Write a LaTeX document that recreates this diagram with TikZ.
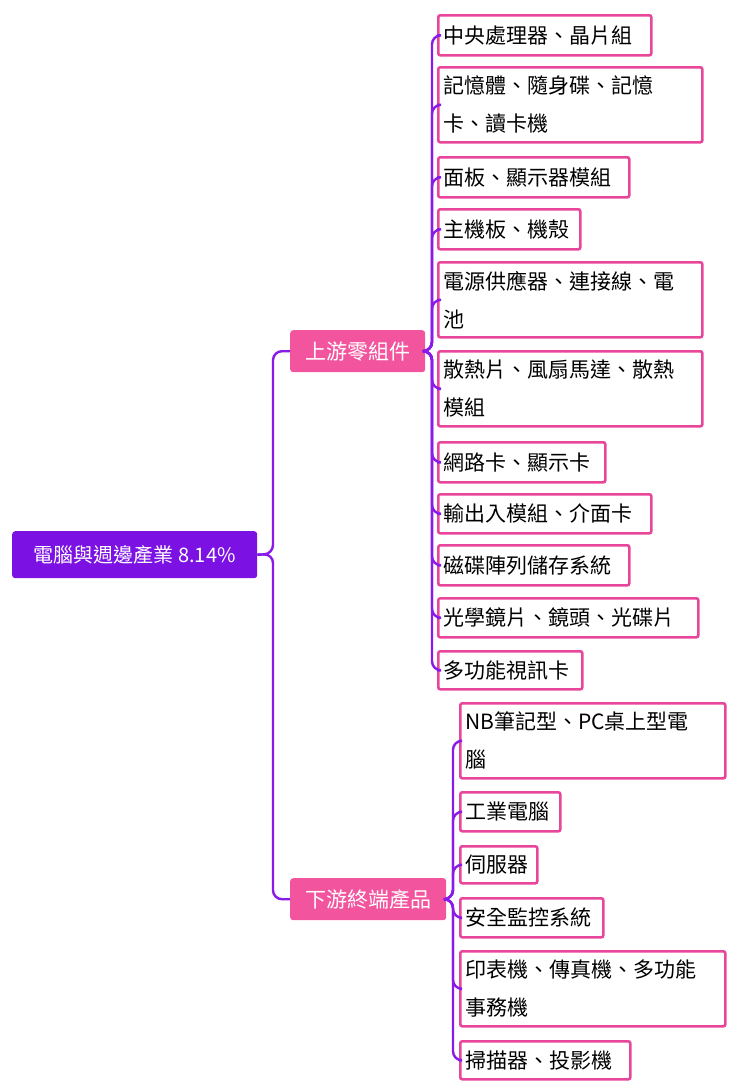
\documentclass[tikz,border=0pt]{standalone}
\usepackage{fontspec}
\newfontfamily\cjk{Noto Sans CJK TC}
\definecolor{rootc}{HTML}{7B12E3}
\definecolor{pinkf}{HTML}{F2559E}
\definecolor{pinkb}{HTML}{E8469A}
\definecolor{brc}{HTML}{8A1AE8}
\begin{document}
\begin{tikzpicture}[x=1pt,y=-1pt,
  lf/.style={draw=pinkb,line width=2.6pt,fill=white,rounded corners=2pt,anchor=north west,inner xsep=5pt,inner ysep=0pt,align=left,font=\cjk\fontsize{21}{38}\selectfont,text=black},
  mid/.style={fill=pinkf,rounded corners=3pt,text=white,font=\cjk\fontsize{21}{26}\selectfont,anchor=north west,inner sep=0pt},
  br/.style={draw=brc,line width=2.4pt,rounded corners=9pt}]
\useasboundingbox (0,0) rectangle (740,1090);
\node[fill=rootc,rounded corners=3pt,text=white,font=\cjk\fontsize{20}{26}\selectfont,anchor=north west,inner sep=0pt,minimum width=245,minimum height=47] (root) at (12,531) {電腦與週邊產業 8.14\%};
\node[mid,minimum width=135,minimum height=42] (up) at (290,330) {上游零組件};
\node[mid,minimum width=156,minimum height=42] (dn) at (290,878) {下游終端產品};
\newcommand{\lfn}[6]{\node[lf,text width=#4-13,minimum height=#5] (#1) at (#2,#3) {#6};}
\lfn{u1}{437}{14}{216}{40}{中央處理器、晶片組}
\lfn{u2}{437}{66}{267}{75}{記憶體、隨身碟、記憶\\卡、讀卡機}
\lfn{u3}{437}{156}{194}{40}{面板、顯示器模組}
\lfn{u4}{437}{208}{145}{40}{主機板、機殼}
\lfn{u5}{437}{261}{267}{75}{電源供應器、連接線、電\\池}
\lfn{u6}{437}{350}{267}{75}{散熱片、風扇馬達、散熱\\模組}
\lfn{u7}{437}{441}{170}{40}{網路卡、顯示卡}
\lfn{u8}{437}{493}{216}{39}{輸出入模組、介面卡}
\lfn{u9}{437}{544}{194}{40}{磁碟陣列儲存系統}
\lfn{u10}{437}{597}{263}{39}{光學鏡片、鏡頭、光碟片}
\lfn{u11}{437}{650}{147}{38}{多功能視訊卡}
\lfn{d1}{459}{702}{268}{75}{NB筆記型、PC桌上型電\\腦}
\lfn{d2}{459}{791}{103}{39}{工業電腦}
\lfn{d3}{459}{845}{80}{37}{伺服器}
\lfn{d4}{459}{897}{146}{39}{安全監控系統}
\lfn{d5}{459}{950}{268}{75}{印表機、傳真機、多功能\\事務機}
\lfn{d6}{459}{1040}{173}{38}{掃描器、投影機}
\foreach \c in {up,dn} \draw[br] (root.east) -- (273,554) |- (\c.west);
\foreach \c in {u1,u2,u3,u4,u5,u6,u7,u8,u9,u10,u11} \draw[br] (up.east) -- (432,351) |- (\c.west);
\foreach \c in {d1,d2,d3,d4,d5,d6} \draw[br] (dn.east) -- (453,899) |- (\c.west);
\end{tikzpicture}
\end{document}
